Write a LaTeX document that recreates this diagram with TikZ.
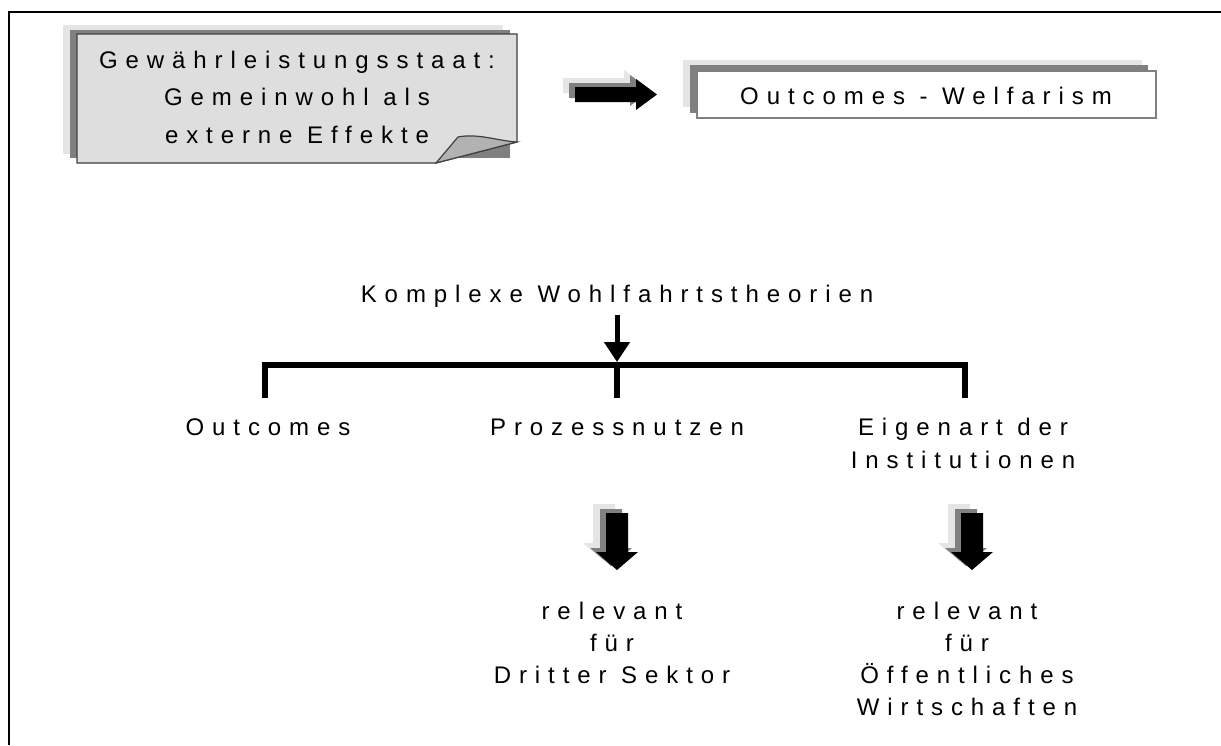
\documentclass[tikz,border=0pt]{standalone}
\usepackage{fontspec}
\setmainfont{Liberation Sans}[LetterSpace=33]
\usetikzlibrary{arrows.meta,calc}
\definecolor{shlight}{gray}{0.90}
\definecolor{shdark}{gray}{0.50}
\definecolor{calfill}{gray}{0.87}
\definecolor{flapfill}{gray}{0.70}
\definecolor{edge}{gray}{0.25}
\tikzset{
  txt/.style={anchor=base, inner sep=0pt, font=\fontsize{24}{33}\selectfont},
  framerule/.style={line width=2.5pt},
  bracketrule/.style={line width=6pt},
  harrowpic/.pic={
    \fill[shlight] (-94,-16.5) -- (-33,-16.5) -- (-33,-24.5) -- (-12,-9) -- (-33,6.5) -- (-33,-1.5) -- (-94,-1.5) -- cycle;
    \fill[shdark] (-88,-11.5) -- (-27,-11.5) -- (-27,-19.5) -- (-6,-4) -- (-27,11.5) -- (-27,3.5) -- (-88,3.5) -- cycle;
    \fill[black] (-82,-7.5) -- (-21,-7.5) -- (-21,-15.5) -- (0,0) -- (-21,15.5) -- (-21,7.5) -- (-82,7.5) -- cycle;
  },
  varrowpic/.pic={
    \fill[shlight] (-24,-66) -- (-2,-66) -- (-2,-27) -- (8,-27) -- (-13,-9) -- (-34,-27) -- (-24,-27) -- cycle;
    \fill[shdark] (-17,-61) -- (5,-61) -- (5,-22) -- (15,-22) -- (-6,-4) -- (-27,-22) -- (-17,-22) -- cycle;
    \fill[black] (-11,-57) -- (11,-57) -- (11,-18) -- (21,-18) -- (0,0) -- (-21,-18) -- (-11,-18) -- cycle;
  }
}
\begin{document}
\begin{tikzpicture}[x=1pt,y=-1pt]
\useasboundingbox (0,0) rectangle (1221,745);
\fill[white] (0,0) rectangle (1221,745);
% outer frame (only top and left visible)
\draw[framerule] (9,745) -- (9,12) -- (1221,12);

% callout box with folded corner
\fill[shlight] (63,25) rectangle (503,154);
\fill[shdark] (70,30) rectangle (510,158);
\filldraw[fill=calfill, draw=edge, line width=1.2pt] (77,34) -- (517,34) -- (517,142) -- (436,163) -- (77,163) -- cycle;
\filldraw[fill=flapfill, draw=edge, line width=1.2pt] (436,163) -- (458,137) .. controls (478,133) and (498,141) .. (517,142) -- cycle;
\node[txt] (g1) at (297,68) {Gewährleistungsstaat:};
\node[txt] (g2) at (297,105) {Gemeinwohl als};
\node[txt] (g3) at (297,143) {externe Effekte};

% block arrow to the right
\pic at (657,94.5) {harrowpic};

% Outcomes - Welfarism box
\fill[shlight] (683,60) rectangle (1142,107);
\fill[shdark] (690,65) rectangle (1148,113);
\filldraw[fill=white, draw=shdark, line width=1.2pt] (697,71) rectangle (1156,118);
\node[txt] (ow) at (926,104) {Outcomes - Welfarism};

% complex welfare theories
\node[txt] (k) at (617,302) {Komplexe Wohlfahrtstheorien};
\coordinate (bar) at (617,362);
\draw[line width=5pt, -{Triangle[width=25pt,length=20pt]}] ($(k.south)+(0,8)$) -- (bar);

% bracket
\node[txt] (o) at (268,435) {Outcomes};
\node[txt] (p) at (617,435) {Prozessnutzen};
\node[txt] (e1) at (963,435) {Eigenart der};
\node[txt] (e2) at (963,468) {Institutionen};
\draw[bracketrule] (265,398) -- (265,365) -- (965,365) -- (965,398);
\draw[bracketrule] (617,365) -- (617,398);

% down block arrows
\pic at (617,570) {varrowpic};
\pic at (972,570) {varrowpic};

% relevant for
\node[txt] (r1) at (612,619) {relevant};
\node[txt] (f1) at (612,651) {für};
\node[txt] (d1) at (612,683) {Dritter Sektor};
\node[txt] (r2) at (967,619) {relevant};
\node[txt] (f2) at (967,651) {für};
\node[txt] (d2) at (967,683) {Öffentliches};
\node[txt] (w2) at (967,715) {Wirtschaften};
\end{tikzpicture}
\end{document}
